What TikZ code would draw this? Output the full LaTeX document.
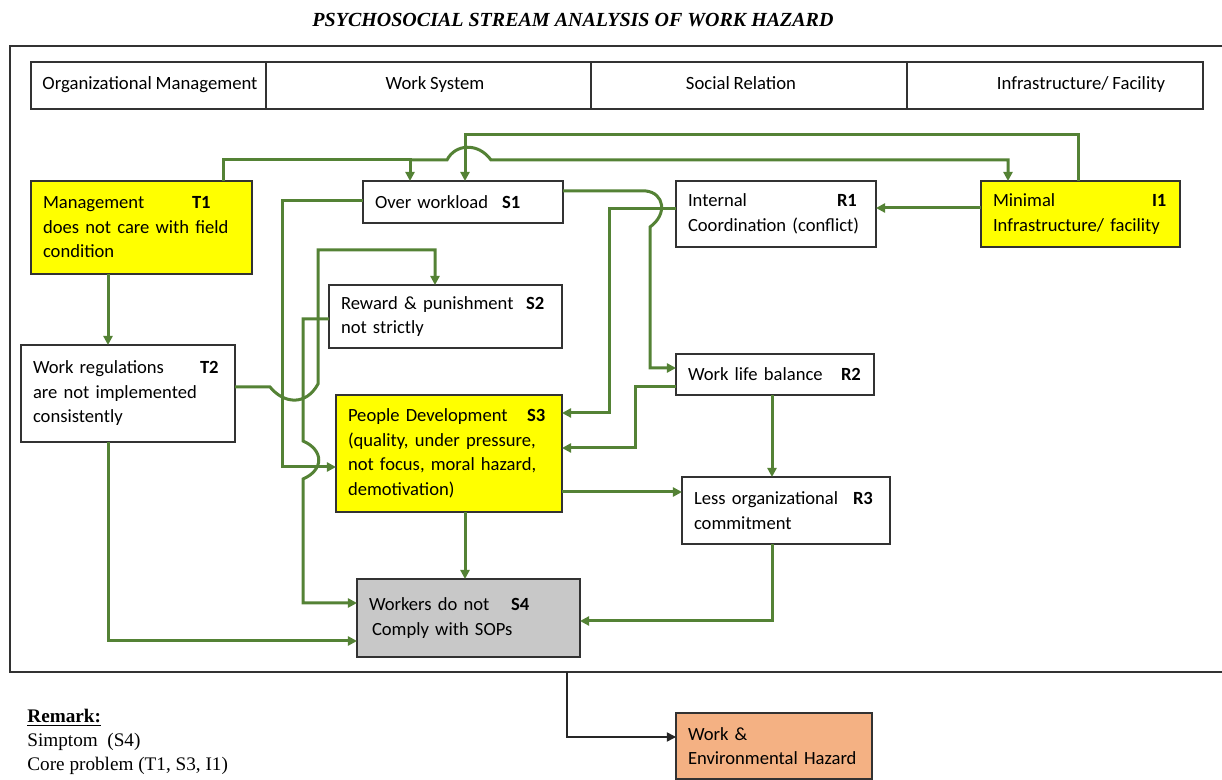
\documentclass[tikz,border=0pt]{standalone}
\usepackage{fontspec}
\setmainfont{Carlito}[WordSpace=0.9]
\newfontfamily\timesfont{Liberation Serif}
\usetikzlibrary{arrows.meta}
\definecolor{arrowgreen}{RGB}{84,130,53}
\definecolor{boxyellow}{RGB}{255,255,0}
\definecolor{boxgray}{RGB}{200,200,200}
\definecolor{boxorange}{RGB}{244,177,131}
\definecolor{boxline}{RGB}{50,50,50}

\begin{document}
\begin{tikzpicture}[x=0.5pt, y=-0.5pt,
  box/.style={draw=boxline, line width=0.9pt, anchor=north west, outer sep=0pt,
    inner xsep=6pt, inner ysep=2pt, align=left, font=\fontsize{9.3pt}{12.25pt}\selectfont},
  hdtext/.style={font=\fontsize{9.35pt}{11pt}\selectfont, inner sep=0pt, anchor=base},
  frameline/.style={draw=boxline, line width=0.8pt},
  flow/.style={draw=arrowgreen, line width=1.5pt, ->, >={Triangle[length=4.6pt,width=4.6pt]}},
  hazline/.style={draw=black!85, line width=0.8pt, ->, >={Triangle[length=4.6pt,width=4.6pt]}}]
\useasboundingbox (0,0) rectangle (1222,780);

\node[font=\timesfont\bfseries\itshape\fontsize{10pt}{12pt}\selectfont, inner sep=0pt] (title) at (573,20)
  {PSYCHOSOCIAL STREAM ANALYSIS OF WORK HAZARD};

\draw[frameline] (1222,46) -- (10,46) -- (10,672) -- (1222,672);
\coordinate (fb) at (567,672);

\draw[frameline] (31,62) rectangle (1203,109);
\foreach \x in {266,591,907} {
 \draw[frameline] (\x,62) -- (\x,109);
}
\node[hdtext] (hdorg) at (150,90) {Organizational Management};
\node[hdtext] (hdwork) at (435,90) {Work System};
\node[hdtext] (hdsoc) at (741,90) {Social Relation};
\node[hdtext] (hdinf) at (1081,90) {Infrastructure/ Facility};

\node[box, fill=boxyellow, text width=98.5pt, minimum height=46.5pt] (t1) at (31,181)
  {\makebox[74.5pt][l]{Management}\textbf{T1}\\does not care with field\\condition};
\node[box, text width=95pt, minimum height=48.5pt] (t2) at (21,345)
  {\makebox[83.5pt][l]{Work regulations}\textbf{T2}\\are not implemented\\consistently};
\node[box, text width=88pt, minimum height=21pt] (s1) at (363,181)
  {\makebox[63.5pt][l]{Over workload}\textbf{S1}};
\node[box, text width=104.5pt, minimum height=31.5pt] (s2) at (329,285)
  {\makebox[92.5pt][l]{Reward \& punishment}\textbf{S2}\\not strictly};
\node[box, fill=boxyellow, text width=101pt, minimum height=58.5pt] (s3) at (336,395)
  {\makebox[89.5pt][l]{People Development}\textbf{S3}\\(quality, under pressure,\\not focus, moral hazard,\\demotivation)};
\node[box, fill=boxgray, text width=99.5pt, minimum height=39pt] (s4) at (357,579)
  {\makebox[71pt][l]{Workers do not}\textbf{S4}\\\hspace*{1.5pt}Comply with SOPs};
\node[box, text width=88pt, minimum height=33pt] (r1) at (676,181)
  {\makebox[74.5pt][l]{Internal}\textbf{R1}\\Coordination (conflict)};
\node[box, text width=87pt, minimum height=20.5pt] (r2) at (676,354)
  {\makebox[76.5pt][l]{Work life balance}\textbf{R2}};
\node[box, text width=92pt, minimum height=33.5pt] (r3) at (682,477)
  {\makebox[79.5pt][l]{Less organizational}\textbf{R3}\\commitment};
\node[box, fill=boxyellow, text width=87.5pt, minimum height=33pt] (i1) at (981,181)
  {\makebox[79.5pt][l]{Minimal}\textbf{I1}\\Infrastructure/ facility};
\node[box, fill=boxorange, text width=86pt, minimum height=33pt] (hz) at (676,713)
  {Work \&\\Environmental Hazard};

\coordinate (jt) at (410,160);
\draw[flow] (t1.north -| 223,0) |- (jt) -- (s1.north -| 410,0);
\draw[flow] (jt) -- (447,160) .. controls (455,144) and (478,142) .. (491,160) -| (i1.north -| 1008,0);
\draw[flow] (i1.north -| 1078,0) |- (465,135) -- (s1.north -| 465,0);
\draw[flow] (i1.west |- 0,208) -- (r1.east |- 0,208);
\draw[flow] (s1.west |- 0,201) -| (282,467) -- (s3.west |- 0,467);
\draw[flow] (s1.east |- 0,191) -- (646,191) .. controls (664,193) and (668,214) .. (650,227) |- (r2.west |- 0,368);
\draw[flow] (r1.west |- 0,209) -| (609,413) -- (s3.east |- 0,413);
\draw[flow] (r2.west |- 0,387) -| (635,448) -- (s3.east |- 0,448);
\draw[flow] (r2.south -| 772,0) -- (r3.north -| 772,0);
\draw[flow] (s3.east |- 0,492) -- (r3.west |- 0,492);
\draw[flow] (r3.south -| 772,0) |- (s4.east |- 0,621);
\draw[flow] (s3.south -| 465,0) -- (s4.north -| 465,0);
\draw[flow] (t1.south -| 108,0) -- (t2.north -| 108,0);
\draw[flow] (t2.south -| 108,0) |- (s4.west |- 0,641);
\draw[flow] (t2.east |- 0,387) -- (270,387) .. controls (284,404) and (306,406) .. (318,384) -- (318,250) -| (s2.north -| 435,0);
\draw[flow] (s2.west |- 0,319) -| (303,441) .. controls (324,450) and (324,470) .. (303,479) |- (s4.west |- 0,603);
\draw[hazline] (fb) |- (hz.west |- 0,737);

\node[font=\timesfont\fontsize{9.6pt}{12pt}\selectfont, align=left, inner sep=0pt, anchor=north west] (rmk) at (27,709)
  {\underline{\textbf{Remark:}}\\Simptom~~(S4)\\Core problem (T1, S3, I1)};
\end{tikzpicture}
\end{document}
